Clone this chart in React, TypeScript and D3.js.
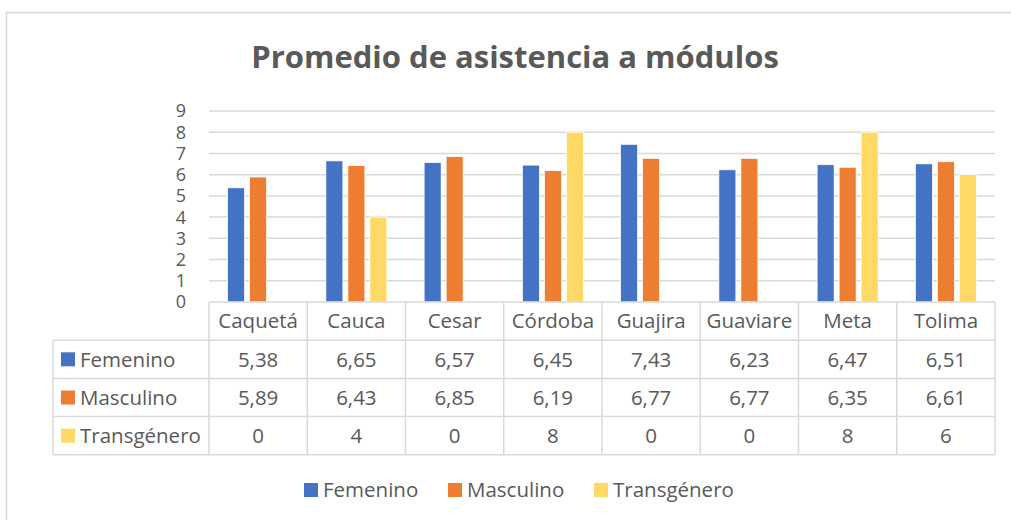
import React, { useRef, useEffect } from 'react'
import * as d3 from 'd3'

const categories = ['Caquetá', 'Cauca', 'Cesar', 'Córdoba', 'Guajira', 'Guaviare', 'Meta', 'Tolima']
const seriesNames = ['Femenino', 'Masculino', 'Transgénero']
const femenino = [5.38, 6.65, 6.57, 6.45, 7.43, 6.23, 6.47, 6.51]
const masculino = [5.89, 6.43, 6.85, 6.19, 6.77, 6.77, 6.35, 6.61]
const transgenero = [0, 4, 0, 8, 0, 0, 8, 6]
const yTicks = [0, 1, 2, 3, 4, 5, 6, 7, 8, 9]
const colors = ['#4472C4', '#ED7D31', '#FFD966']

const FONT = "'Open Sans', 'Noto Sans', sans-serif"
const TEXT = '#595959'
const GRID = '#d9d9d9'

function App() {
    const ref = useRef<SVGSVGElement>(null)

    useEffect(() => {
        const width = 1011
        const height = 520
        const left = 209
        const right = 995
        const top = 111
        const bottom = 302
        const rowH = 38.2

        const svg = d3.select(ref.current)
        svg.selectAll('*').remove()

        const values = [femenino, masculino, transgenero]
        const rows = categories.map((c, i) => ({
            cat: c,
            vals: seriesNames.map((s, j) => ({ series: s, value: values[j][i], color: colors[j] }))
        }))

        // chart frame
        svg.append('rect')
            .attr('x', 6.5).attr('y', 12.5)
            .attr('width', width).attr('height', height)
            .attr('fill', 'white').attr('stroke', GRID).attr('stroke-width', 1.5)

        // title
        svg.append('text')
            .attr('x', 515).attr('y', 68)
            .attr('text-anchor', 'middle')
            .style('font-family', FONT).style('font-size', '31px').style('font-weight', '700')
            .style('fill', TEXT)
            .text('Promedio de asistencia a módulos')

        const x0 = d3.scaleBand().domain(categories).range([left, right])
        const bw = x0.bandwidth()
        const x1 = d3.scaleBand().domain(seriesNames)
            .range([(bw - 61) / 2, (bw + 61) / 2])
            .paddingInner(5 / 22)
        const y = d3.scaleLinear().domain([0, 9]).range([bottom, top])

        // gridlines
        svg.append('g').selectAll('line')
            .data(yTicks.slice(1))
            .join('line')
            .attr('x1', left).attr('x2', right)
            .attr('y1', d => y(d)).attr('y2', d => y(d))
            .attr('stroke', GRID).attr('stroke-width', 1.5)

        // y axis labels
        svg.append('g').selectAll('text')
            .data(yTicks)
            .join('text')
            .attr('x', 186).attr('y', d => y(d))
            .attr('dy', '0.36em')
            .attr('text-anchor', 'end')
            .style('font-family', FONT).style('font-size', '18px').style('fill', TEXT)
            .text(d => d)

        // bars
        const groups = svg.append('g').selectAll('g')
            .data(rows)
            .join('g')
            .attr('transform', d => `translate(${x0(d.cat)}, 0)`)

        groups.selectAll('rect')
            .data(d => d.vals.filter(v => v.value > 0))
            .join('rect')
            .attr('x', d => x1(d.series)!)
            .attr('y', d => y(d.value))
            .attr('width', x1.bandwidth())
            .attr('height', d => bottom - y(d.value))
            .attr('fill', d => d.color)
            .attr('stroke', 'white').attr('stroke-width', 0.75)

        // data table
        const table = svg.append('g')
        const tableLeft = 53
        const lineStyle = (sel: any) => sel.attr('stroke', GRID).attr('stroke-width', 1.5).attr('fill', 'none')

        table.append('line').attr('x1', left).attr('x2', right).attr('y1', bottom).attr('y2', bottom).call(lineStyle)
        d3.range(4).forEach(r => {
            const yy = bottom + rowH * (r + 1)
            table.append('line').attr('x1', tableLeft).attr('x2', right).attr('y1', yy).attr('y2', yy).call(lineStyle)
        })
        table.append('line').attr('x1', tableLeft).attr('x2', tableLeft)
            .attr('y1', bottom + rowH).attr('y2', bottom + rowH * 4).call(lineStyle)
        categories.forEach(c => {
            table.append('line').attr('x1', x0(c)!).attr('x2', x0(c)!)
                .attr('y1', bottom).attr('y2', bottom + rowH * 4).call(lineStyle)
        })
        table.append('line').attr('x1', right).attr('x2', right)
            .attr('y1', bottom).attr('y2', bottom + rowH * 4).call(lineStyle)

        // category header text
        table.selectAll('text.cat')
            .data(categories)
            .join('text')
            .attr('class', 'cat')
            .attr('x', d => x0(d)! + bw / 2)
            .attr('y', bottom + rowH / 2)
            .attr('dy', '0.36em')
            .attr('text-anchor', 'middle')
            .style('font-family', FONT).style('font-size', '20.5px').style('fill', TEXT)
            .text(d => d)

        const fmt = (v: number) => (Number.isInteger(v) ? String(v) : v.toFixed(2).replace('.', ','))

        seriesNames.forEach((s, j) => {
            const cy = bottom + rowH * (j + 1) + rowH / 2
            table.append('rect')
                .attr('x', 61).attr('y', cy - 7)
                .attr('width', 14).attr('height', 14)
                .attr('fill', colors[j])
            table.append('text')
                .attr('x', 80).attr('y', cy).attr('dy', '0.36em')
                .style('font-family', FONT).style('font-size', '20.5px').style('fill', TEXT)
                .text(s)
            table.selectAll(`text.v${j}`)
                .data(values[j])
                .join('text')
                .attr('class', `v${j}`)
                .attr('x', (d, i) => x0(categories[i])! + bw / 2)
                .attr('y', cy).attr('dy', '0.36em')
                .attr('text-anchor', 'middle')
                .style('font-family', FONT).style('font-size', '20.5px').style('fill', TEXT)
                .text(d => fmt(d))
        })

        // legend
        const legendX = [304, 448, 594]
        svg.append('g').selectAll('g')
            .data(seriesNames)
            .join('g')
            .attr('transform', (d, i) => `translate(${legendX[i]}, 490)`)
            .call(g => g.append('rect')
                .attr('y', -7).attr('width', 14).attr('height', 14)
                .attr('fill', (d, i) => colors[i]))
            .call(g => g.append('text')
                .attr('x', 19).attr('dy', '0.36em')
                .style('font-family', FONT).style('font-size', '20.5px').style('fill', TEXT)
                .text(d => d))
    }, [])

    return (
        <svg ref={ref} width={1011} height={520}
            style={{ position: 'absolute', left: 0, top: 0, display: 'block' }} />
    )
}

export default App
